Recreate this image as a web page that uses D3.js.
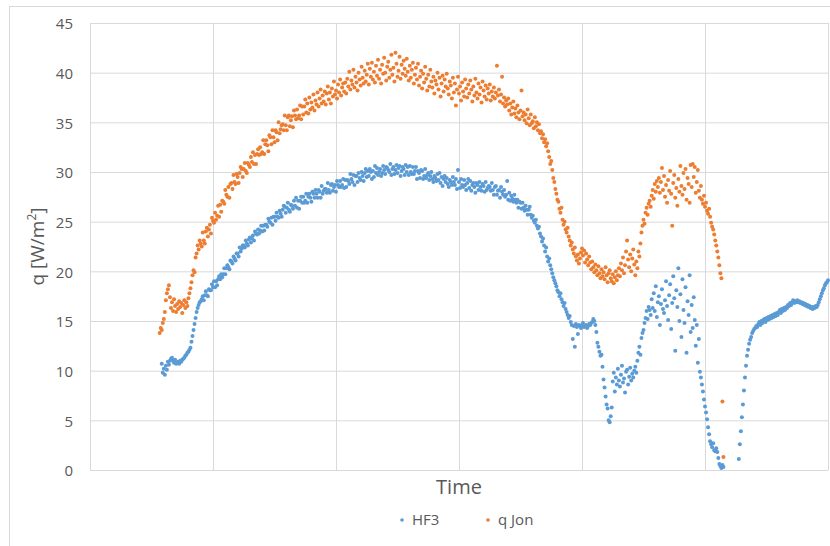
<!DOCTYPE html>
<html>
<head>
<meta charset="utf-8">
<script src="https://cdn.jsdelivr.net/npm/d3@7"></script>
<style>
  body { margin: 0; background: #fff; }
  svg { display: block; font-family: "Open Sans", "Noto Sans", sans-serif; }
</style>
</head>
<body>
<div id="chart"></div>
<script>
// time axis in minutes, readings every half minute
let timeTicks = [0, 60, 120, 180, 240, 300, 360];
let yTicks = [0, 5, 10, 15, 20, 25, 30, 35, 40, 45];
let seriesNames = ["HF3", "q Jon"];
let seriesColors = ["#5B9BD5", "#ED7D31"];
let sampleStep = 0.5;
let hf3Start = 35;
let qJonStart = 34;

let hf3Values = [
  10.7, 9.8, 10.2, 9.6, 10.5, 10.1, 10.9, 10.6, 11.0, 11.2, 11.3, 11.0, 10.8, 11.1, 10.7, 10.8, 10.9, 10.7, 11.0, 10.9,
  11.1, 11.2, 11.3, 11.5, 11.6, 11.8, 11.9, 12.1, 12.3, 12.9, 13.5, 14.1, 14.7, 15.3, 15.9, 16.3, 16.6, 16.9, 17.0, 17.2,
  17.5, 17.1, 17.6, 18.0, 17.6, 17.5, 18.2, 18.1, 18.1, 18.7, 18.4, 19.0, 18.4, 19.0, 18.6, 19.2, 19.5, 19.2, 19.7, 19.4,
  19.7, 20.3, 19.7, 20.3, 20.6, 20.4, 20.2, 21.1, 21.0, 20.8, 21.5, 21.3, 21.1, 21.8, 21.8, 21.5, 22.4, 22.0, 22.3, 22.6,
  22.6, 22.4, 23.1, 22.8, 22.6, 23.2, 23.4, 22.9, 23.3, 23.6, 23.1, 24.0, 23.8, 23.7, 24.2, 23.8, 24.1, 24.6, 24.0, 24.6,
  24.1, 24.7, 24.7, 24.5, 25.3, 25.0, 24.9, 25.4, 24.7, 25.5, 25.5, 25.1, 25.9, 25.5, 25.4, 26.1, 25.8, 25.5, 26.2, 26.6,
  26.5, 25.9, 26.4, 26.9, 26.2, 26.0, 26.7, 26.6, 26.3, 27.1, 26.6, 27.4, 26.4, 27.1, 26.3, 27.1, 27.5, 26.9, 27.5, 26.9,
  27.1, 27.8, 26.9, 27.5, 27.8, 27.4, 27.0, 28.0, 27.8, 27.4, 28.2, 27.8, 27.4, 28.2, 28.0, 27.4, 28.6, 27.8, 28.1, 28.3,
  28.3, 27.9, 28.9, 28.2, 27.9, 28.7, 28.8, 28.1, 28.5, 28.7, 28.0, 29.1, 28.7, 28.5, 29.1, 28.5, 28.7, 29.3, 28.4, 29.2,
  28.5, 29.2, 29.1, 28.8, 29.8, 29.3, 29.0, 29.7, 28.7, 29.6, 29.6, 29.0, 29.9, 29.4, 29.2, 30.0, 29.6, 29.1, 29.9, 30.3,
  29.5, 30.1, 29.6, 30.3, 30.0, 29.3, 30.1, 29.5, 30.6, 29.9, 30.4, 29.7, 30.0, 30.3, 29.6, 29.9, 30.6, 30.2, 29.8, 30.5,
  30.4, 30.2, 30.0, 30.8, 29.7, 30.3, 30.5, 29.8, 30.2, 30.7, 29.9, 30.4, 30.6, 29.6, 30.1, 30.5, 30.3, 29.7, 30.7, 30.0,
  30.5, 29.7, 30.6, 30.0, 29.8, 30.5, 29.8, 30.1, 30.5, 29.3, 30.1, 29.9, 29.4, 30.2, 30.1, 29.3, 29.6, 30.3, 29.4, 29.7,
  29.9, 29.2, 29.6, 30.0, 29.3, 29.0, 29.6, 29.4, 29.1, 29.8, 29.2, 29.9, 28.9, 29.5, 28.6, 29.3, 29.6, 29.0, 29.4, 28.8,
  28.5, 29.2, 29.0, 28.7, 29.5, 29.0, 28.7, 29.3, 28.3, 30.2, 29.0, 28.4, 29.3, 28.7, 28.5, 29.2, 28.7, 28.2, 28.9, 29.3,
  28.4, 29.1, 28.1, 28.7, 28.9, 28.5, 27.9, 28.9, 28.7, 28.2, 29.0, 28.5, 28.1, 28.8, 28.6, 28.0, 29.0, 28.2, 28.4, 28.6,
  28.5, 28.1, 28.9, 28.2, 27.7, 28.5, 28.6, 27.7, 28.1, 28.2, 27.4, 28.5, 28.0, 27.7, 28.2, 27.5, 27.7, 29.1, 27.2, 27.9,
  27.1, 27.6, 27.3, 27.0, 27.7, 27.2, 26.9, 27.2, 26.4, 27.0, 26.9, 26.3, 26.9, 26.4, 26.1, 26.6, 26.2, 25.7, 26.2, 26.5,
  25.7, 25.4, 25.6, 25.1, 24.9, 25.2, 24.6, 24.3, 24.5, 23.8, 23.5, 23.0, 23.3, 22.6, 22.0, 22.4, 21.5, 21.0, 21.3, 20.6,
  20.2, 19.8, 19.4, 19.1, 18.8, 18.5, 18.1, 17.9, 17.5, 17.8, 17.2, 16.9, 16.5, 16.8, 16.2, 15.9, 15.6, 15.3, 15.5, 14.9,
  14.6, 13.2, 14.5, 12.4, 14.7, 14.4, 13.7, 14.6, 14.5, 14.3, 14.6, 14.8, 14.4, 14.5, 14.6, 14.3, 14.5, 14.7, 14.6, 14.8,
  14.9, 15.2, 15.0, 14.6, 13.9, 12.8, 12.4, 11.9, 11.5, 11.6, 10.4, 9.1, 8.3, 7.4, 6.6, 6.2, 5.0, 4.8, 5.4, 6.3,
  8.9, 9.8, 7.9, 9.3, 8.6, 10.2, 9.0, 8.4, 9.6, 10.5, 8.8, 9.2, 7.8, 9.9, 10.1, 8.6, 9.4, 10.3, 9.0, 9.7,
  9.3, 10.0, 10.4, 9.8, 11.0, 11.8, 12.4, 11.6, 13.3, 13.8, 14.1, 14.8, 15.3, 16.0, 15.2, 16.4, 16.1, 15.6, 17.2, 16.3,
  17.8, 16.0, 18.5, 15.4, 16.9, 17.5, 14.6, 16.7, 18.2, 16.2, 15.8, 17.1, 19.0, 16.5, 15.1, 17.6, 18.7, 14.2, 16.8, 19.5,
  17.3, 12.0, 18.1, 16.4, 20.3, 15.0, 17.7, 13.4, 19.2, 16.1, 14.8, 18.4, 11.8, 17.0, 15.6, 19.6, 13.9, 16.6, 14.3, 17.4,
  15.1, 12.5, 14.6, 10.8, 13.2, 9.9, 9.3, 8.6, 7.9, 7.1, 6.4, 5.8, 5.1, 4.3, 3.6, 2.9, 2.6, 2.3, 2.7, 2.0,
  1.9, 2.2, 1.8, 1.2, 0.6, 0.4, 0.2, 0.5, 0.3, null, null, null, null, null, null, null, null, null, null, null,
  null, null, null, 1.1, 2.6, 3.9, 5.3, 6.6, 8.0, 9.3, 10.5, 11.5, 12.1, 12.7, 13.1, 13.4, 13.8, 14.0, 14.2, 14.3,
  14.5, 14.4, 14.7, 14.9, 14.6, 15.0, 14.8, 15.1, 15.2, 14.9, 15.3, 15.1, 15.4, 15.2, 15.5, 15.3, 15.6, 15.4, 15.7, 15.5,
  15.8, 15.6, 15.9, 16.1, 15.8, 16.2, 16.0, 16.3, 16.1, 16.4, 16.3, 16.6, 16.5, 16.8, 16.6, 16.9, 17.1, 16.8, 17.0, 16.9,
  17.1, 16.9, 17.0, 16.8, 16.9, 16.7, 16.8, 16.6, 16.7, 16.5, 16.6, 16.4, 16.5, 16.3, 16.4, 16.2, 16.4, 16.3, 16.5, 16.4,
  16.6, 16.9, 17.2, 17.5, 17.8, 18.1, 18.3, 18.6, 18.8, 18.9, 19.1
];

let qJonValues = [
  13.8, 14.3, 14.1, 14.8, 15.2, 15.9, 17.1, 17.8, 18.2, 18.6, 17.4, 16.3, 16.9, 16.0, 17.2, 16.5, 15.9, 16.7, 16.2, 17.0,
  16.4, 16.8, 15.8, 16.6, 17.1, 16.3, 16.9, 16.5, 17.3, 17.8, 18.3, 18.9, 19.6, 20.1, 19.9, 21.4, 21.8, 22.6, 22.2, 23.1,
  22.8, 22.5, 23.9, 23.1, 22.8, 24.0, 24.4, 23.5, 24.2, 24.7, 23.8, 25.4, 25.1, 24.9, 25.9, 25.2, 25.6, 26.6, 25.5, 26.7,
  26.0, 27.1, 27.0, 26.8, 28.2, 27.7, 27.5, 28.5, 27.4, 28.8, 28.9, 28.3, 29.7, 29.0, 28.8, 29.8, 29.5, 28.9, 29.9, 30.5,
  30.3, 29.5, 30.3, 30.9, 30.1, 29.9, 30.9, 30.7, 30.5, 31.5, 31.0, 32.0, 30.8, 31.7, 30.8, 31.8, 32.3, 31.7, 32.5, 31.8,
  32.0, 33.2, 31.8, 32.8, 33.2, 32.7, 32.1, 33.7, 33.5, 32.8, 34.2, 33.5, 33.0, 34.2, 34.0, 33.2, 35.0, 33.9, 34.3, 34.7,
  34.8, 34.2, 35.7, 34.7, 34.2, 35.5, 35.7, 34.6, 35.2, 35.6, 34.5, 36.2, 35.7, 35.3, 36.3, 35.4, 35.7, 36.7, 35.3, 36.6,
  35.8, 36.6, 37.3, 36.0, 36.9, 35.9, 37.5, 36.3, 37.0, 36.5, 37.8, 36.2, 37.2, 36.8, 38.0, 36.6, 37.4, 38.3, 36.9, 37.7,
  37.1, 38.1, 36.8, 37.9, 38.6, 37.3, 38.0, 36.9, 38.4, 37.6, 39.1, 37.8, 38.2, 37.4, 38.8, 38.0, 39.3, 37.7, 38.5, 38.9,
  38.1, 39.0, 37.9, 39.4, 38.6, 40.1, 38.3, 39.2, 38.8, 40.3, 38.5, 39.6, 39.0, 38.2, 40.0, 39.3, 38.7, 40.6, 39.5, 38.9,
  40.2, 39.1, 39.8, 40.9, 38.8, 40.4, 39.6, 41.0, 39.3, 40.1, 39.0, 40.7, 39.7, 41.3, 39.4, 40.3, 38.9, 40.8, 39.9, 41.5,
  40.0, 39.2, 40.6, 41.1, 39.5, 40.3, 41.8, 39.8, 40.5, 39.1, 42.0, 40.9, 39.6, 40.2, 41.6, 39.4, 40.8, 39.9, 41.2, 40.4,
  39.7, 41.4, 40.1, 39.2, 40.7, 39.5, 40.3, 41.0, 38.9, 39.8, 40.5, 39.3, 40.9, 38.7, 39.6, 40.2, 38.4, 39.9, 39.0, 40.6,
  39.4, 38.2, 39.8, 38.6, 40.3, 39.1, 38.5, 39.6, 37.9, 39.2, 38.8, 40.0, 38.3, 39.5, 37.6, 38.9, 39.7, 38.1, 39.3, 38.6,
  39.9, 38.4, 37.8, 39.1, 38.7, 37.4, 39.5, 38.0, 38.9, 36.7, 38.3, 39.6, 37.9, 38.6, 37.2, 39.0, 38.1, 37.6, 39.3, 38.4,
  37.5, 38.8, 37.9, 39.2, 38.3, 37.1, 38.6, 37.7, 39.4, 38.0, 37.4, 38.9, 37.8, 38.5, 37.0, 39.1, 38.2, 37.6, 38.7, 37.3,
  38.4, 37.9, 38.8, 37.2, 38.1, 37.6, 38.5, 37.4, 38.0, 40.7, 37.7, 38.3, 37.1, 37.8, 39.6, 36.9, 37.5, 36.6, 37.2, 36.8,
  37.4, 36.2, 36.9, 35.8, 36.5, 37.1, 35.9, 36.4, 35.5, 36.7, 36.0, 35.3, 36.2, 38.2, 35.6, 36.0, 35.2, 35.8, 34.9, 36.3,
  35.4, 34.7, 35.8, 34.9, 35.1, 34.4, 35.5, 34.6, 35.0, 34.2, 34.8, 33.9, 34.1, 33.4, 33.8, 33.0, 33.3, 32.6, 32.9, 32.1,
  31.5, 30.8, 31.1, 30.2, 29.4, 29.0, 28.3, 27.8, 27.2, 27.0, 26.3, 25.9, 26.4, 25.2, 24.7, 25.0, 24.2, 23.9, 24.4, 23.5,
  23.1, 22.6, 22.9, 22.2, 21.8, 22.4, 21.5, 21.1, 21.7, 20.8, 21.3, 21.9, 22.3, 21.6, 22.1, 20.9, 21.8, 21.2, 20.6, 21.5,
  20.9, 20.2, 21.0, 20.4, 19.9, 20.7, 20.1, 19.6, 20.5, 19.8, 19.3, 20.2, 19.5, 19.9, 19.2, 20.4, 19.6, 18.9, 19.8, 20.1,
  19.3, 19.0, 19.7, 18.8, 19.4, 20.0, 19.1, 19.6, 20.3, 19.5, 20.8, 20.1, 21.4, 19.8, 20.6, 22.0, 23.1, 21.2, 20.4, 21.7,
  20.0, 21.3, 22.2, 20.7, 19.6, 21.0, 20.3, 22.0, 21.5, 22.8, 23.9, 24.6, 25.2, 24.8, 25.9, 26.4, 25.7, 26.8, 27.1, 26.5,
  27.6, 28.2, 27.3, 28.8, 28.0, 29.1, 28.5, 29.4, 27.9, 29.0, 30.4, 28.2, 29.6, 27.5, 28.7, 26.9, 29.2, 28.1, 30.1, 27.8,
  24.6, 28.9, 29.7, 27.4, 28.4, 26.6, 29.3, 28.0, 30.6, 28.6, 27.7, 29.9, 28.3, 30.3, 27.2, 29.4, 28.8, 26.9, 30.7, 28.5,
  30.8, 29.5, 30.5, 27.9, 29.0, 30.2, 28.1, 27.4, 28.6, 27.2, 26.8, 27.6, 26.5, 26.9, 26.1, 25.8, 26.3, 25.5, 24.9, 24.5,
  24.2, 23.7, 23.1, 22.6, 22.0, 21.4, 20.6, 19.8, 19.3, 6.9, 1.3
];

let width = 830,
  height = 546,
  margins = { left: 90, right: 2, top: 23, bottom: 76 };

let svg = d3.select("#chart").append("svg").attr("width", width).attr("height", height);

// chart area frame
svg.append("rect")
  .attr("x", 9.5).attr("y", 6.5)
  .attr("width", width).attr("height", height)
  .attr("fill", "none").attr("stroke", "#d9d9d9");

let x = d3.scaleLinear()
  .domain([0, 360])
  .range([margins.left, width - margins.right]);

let y = d3.scaleLinear()
  .domain([0, 45])
  .range([height - margins.bottom, margins.top]);

let gridColor = "#d9d9d9";

// vertical gridlines, no tick labels on the time axis
let xAxis = svg.append("g")
  .attr("transform", "translate(0," + (height - margins.bottom) + ")")
  .call(d3.axisBottom(x)
    .tickValues(timeTicks)
    .tickSize(-(height - margins.bottom - margins.top))
    .tickFormat(""));
xAxis.select(".domain").remove();
xAxis.selectAll("line").attr("stroke", gridColor);

// horizontal gridlines + value labels
let yAxis = svg.append("g")
  .attr("transform", "translate(" + margins.left + ",0)")
  .call(d3.axisLeft(y)
    .tickValues(yTicks)
    .tickSize(-(width - margins.right - margins.left))
    .tickPadding(17));
yAxis.select(".domain").remove();
yAxis.selectAll("line").attr("stroke", gridColor);
yAxis.selectAll("text")
  .attr("fill", "#595959")
  .attr("dy", "0.38em")
  .style("font-size", "15px")
  .style("font-family", "'Open Sans', sans-serif");

function toPoints(values, start) {
  return values
    .map(function(v, i) {
      return { t: start + i * sampleStep, v: v };
    })
    .filter(function(d) {
      return d.v !== null;
    });
}

let series = [
  { name: seriesNames[0], color: seriesColors[0], points: toPoints(hf3Values, hf3Start) },
  { name: seriesNames[1], color: seriesColors[1], points: toPoints(qJonValues, qJonStart) }
];

series.forEach(function(s) {
  svg.append("g")
    .selectAll("circle")
    .data(s.points)
    .enter().append("circle")
    .attr("cx", function(d) {
      return x(d.t);
    })
    .attr("cy", function(d) {
      return y(d.v);
    })
    .attr("r", 2)
    .attr("fill", s.color);
});

// axis titles
let yTitle = svg.append("text")
  .attr("transform", "translate(44," + ((margins.top + height - margins.bottom) / 2) + ") rotate(-90)")
  .attr("text-anchor", "middle")
  .attr("fill", "#595959")
  .style("font-size", "19px");
yTitle.append("tspan").text("q [W/m");
yTitle.append("tspan").text("2").attr("baseline-shift", "super").style("font-size", "12px");
yTitle.append("tspan").text("]");

svg.append("text")
  .attr("x", 459)
  .attr("y", 494)
  .attr("text-anchor", "middle")
  .attr("fill", "#595959")
  .style("font-size", "20px")
  .text("Time");

// legend
let legendX = [402, 488];
let legend = svg.append("g").selectAll("g")
  .data(series)
  .enter().append("g")
  .attr("transform", function(d, i) {
    return "translate(" + legendX[i] + ",520)";
  });

legend.append("circle")
  .attr("r", 1.8)
  .attr("fill", function(d) {
    return d.color;
  });

legend.append("text")
  .attr("x", 10)
  .attr("dy", "0.36em")
  .attr("fill", "#595959")
  .style("font-size", "15px")
  .text(function(d) {
    return d.name;
  });
</script>
</body>
</html>
